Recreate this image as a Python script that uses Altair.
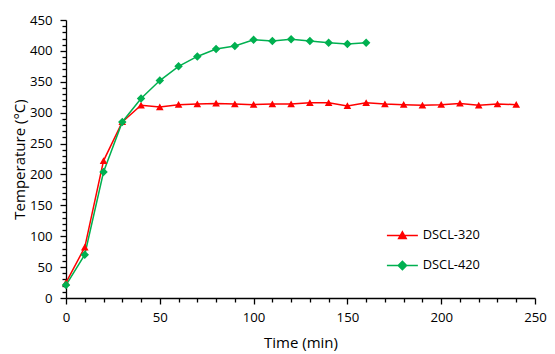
import altair as alt
import pandas as pd

# ---- data ----
series_names = ["DSCL-320", "DSCL-420"]
series_colors = ["#FF0000", "#00B050"]

time_320 = [0, 10, 20, 30, 40, 50, 60, 70, 80, 90, 100, 110, 120, 130, 140, 150,
            160, 170, 180, 190, 200, 210, 220, 230, 240]
temp_320 = [25, 82, 222, 285, 312, 309, 313, 314, 315, 314, 313, 314, 314, 316, 316, 311,
            316, 314, 313, 312, 313, 315, 312, 314, 313]

time_420 = [0, 10, 20, 30, 40, 50, 60, 70, 80, 90, 100, 110, 120, 130, 140, 150, 160]
temp_420 = [21, 70, 204, 285, 323, 352, 375, 391, 403, 408, 418, 416, 419, 416, 413, 411, 413]

x_ticks = list(range(0, 251, 10))
y_ticks = list(range(0, 451, 10))

# marker shapes: a filled marker plus a horizontal stroke that only shows in the legend
tri_path = "M-3.7,0H3.7M0,-0.85L0.9,0.75L-0.9,0.75Z"
dia_path = "M-3.7,0H3.7M0,-1L1,0L0,1L-1,0Z"

df = pd.concat([
    pd.DataFrame({"time": time_320, "temp": temp_320, "series": series_names[0]}),
    pd.DataFrame({"time": time_420, "temp": temp_420, "series": series_names[1]}),
], ignore_index=True)

FONT = "Open Sans"
TXT = "#000000"

x_enc = alt.X(
    "time:Q",
    scale=alt.Scale(domain=[0, 250], nice=False, zero=True),
    axis=alt.Axis(
        title="Time (min)", values=x_ticks, labelFlush=False,
        labelExpr="datum.value % 50 === 0 ? datum.label : ''",
        tickSize={"condition": {"test": "datum.value % 50 === 0", "value": 6}, "value": 4},
        grid=False, labelPadding=7, titlePadding=12,
    ),
)
y_enc = alt.Y(
    "temp:Q",
    scale=alt.Scale(domain=[0, 450], nice=False),
    axis=alt.Axis(
        title="Temperature (°C)", values=y_ticks, labelFlush=False,
        labelExpr="datum.value % 50 === 0 ? datum.label : ''",
        tickSize={"condition": {"test": "datum.value % 50 === 0", "value": 6}, "value": 4},
        grid=False, labelPadding=8, titlePadding=2,
    ),
)

color_scale = alt.Scale(domain=series_names, range=series_colors)


def make_legend():
    return alt.Legend(title=None, orient="none", legendX=330, legendY=209,
                      labelFont=FONT, labelFontSize=12.8, labelColor=TXT,
                      labelOffset=14, rowPadding=15, symbolSize=70,
                      symbolStrokeWidth=1.5)


lines = alt.Chart(df).mark_line(strokeWidth=1.5).encode(
    x=x_enc, y=y_enc,
    color=alt.Color("series:N", scale=color_scale, legend=make_legend()),
    detail="series:N",
)

points = alt.Chart(df).mark_point(filled=True, opacity=1).encode(
    x=x_enc, y=y_enc,
    color=alt.Color("series:N", scale=color_scale, legend=make_legend()),
    stroke=alt.Stroke("series:N", scale=color_scale, legend=make_legend()),
    shape=alt.Shape("series:N", scale=alt.Scale(domain=series_names, range=[tri_path, dia_path]),
                    legend=make_legend()),
    strokeWidth=alt.value(0),
    size=alt.value(72),
)

chart = alt.layer(lines, points).properties(
    width=469, height=278,
    autosize=alt.AutoSizeParams(type="none"),
    padding={"left": 58, "top": 12, "right": 12, "bottom": 54},
).configure_view(stroke=None).configure_axis(
    domainColor="#000000", domainWidth=1.3, tickColor="#000000", tickWidth=1.3,
    labelFont=FONT, labelFontSize=13.2, labelColor=TXT,
    titleFont=FONT, titleFontSize=15, titleFontWeight="normal", titleColor=TXT,
).configure_legend(
    symbolStrokeWidth=1.5,
)

chart.save("out.html", embed_options={"renderer": "svg", "actions": False})
